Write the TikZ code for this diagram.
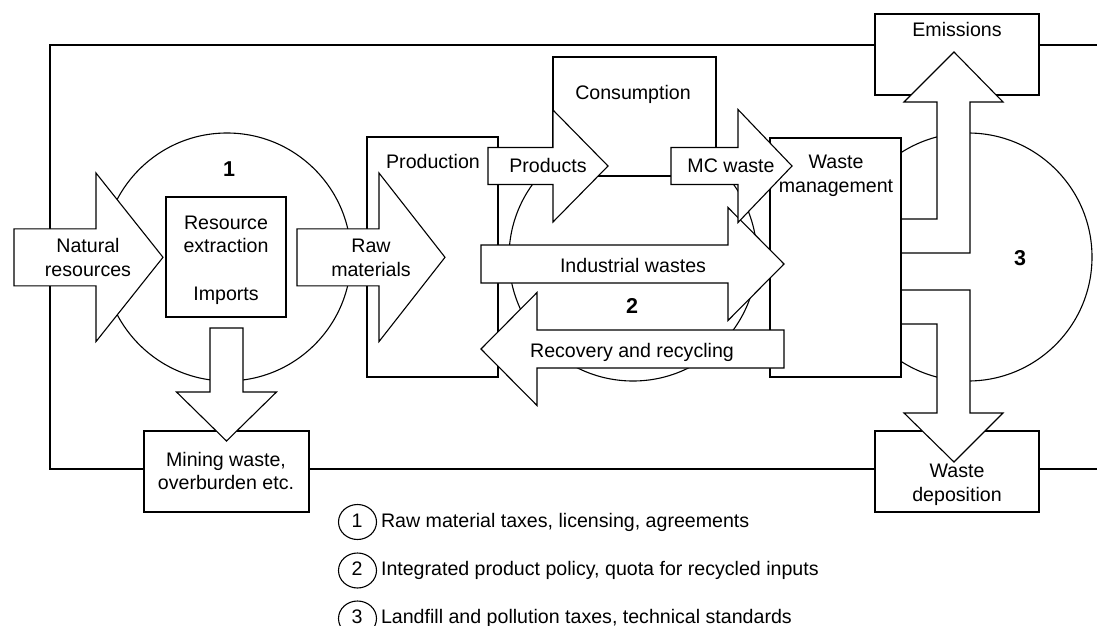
\documentclass[tikz,border=0pt]{standalone}
\usepackage{fontspec}
\setmainfont{Liberation Sans}

% horizontal block arrow: tail x, head base x, tip x, centre y, half body, half head
\newcommand{\blockarrowh}[6]{%
  \draw[blk] (#1,#4-#5) -- (#2,#4-#5) -- (#2,#4-#6) -- (#3,#4)
    -- (#2,#4+#6) -- (#2,#4+#5) -- (#1,#4+#5) -- cycle;}
% vertical block arrow: tail y, head base y, tip y, centre x, half body, half head
\newcommand{\blockarrowv}[6]{%
  \draw[blk] (#4-#5,#1) -- (#4-#5,#2) -- (#4-#6,#2) -- (#4,#3)
    -- (#4+#6,#2) -- (#4+#5,#2) -- (#4+#5,#1) -- cycle;}

\begin{document}
\begin{tikzpicture}[x=1pt,y=-1pt,line width=1.1pt,line join=miter,
  blk/.style={draw=black,fill=white},
  lbl/.style={anchor=base,inner sep=0pt,font=\fontsize{19.6}{24}\selectfont},
  num/.style={anchor=base,inner sep=0pt,font=\fontsize{21.5}{24}\selectfont\bfseries},
  legtext/.style={anchor=base west,inner sep=0pt,font=\fontsize{19.6}{24}\selectfont},
  legring/.style={draw=black,x radius=19,y radius=17.5}]

\useasboundingbox (0,0) rectangle (1097,626);

% system boundary
\draw (1097,45) -- (50,45) -- (50,469) -- (1097,469);

% policy areas
\draw[blk] (227,257) circle[radius=124];
\draw[blk] (633,257) circle[radius=124];
\draw[blk] (968,257) circle[radius=124];

% boxes on the boundary
\draw[blk] (875,14) rectangle (1039,95);
\draw[blk] (875,431) rectangle (1039,512);
\draw[blk] (144,431) rectangle (309,512);

% process boxes
\draw[blk] (166,197) rectangle (286,317);
\draw[blk] (367,137) rectangle (498,377);
\draw[blk] (553,57) rectangle (716,176);

% outputs of waste management
\draw[blk] (895,253) -- (970,253) -- (970,102) -- (1003,102) -- (954,52)
  -- (904,102) -- (937,102) -- (937,219) -- (895,219) -- cycle;
\draw[blk] (895,290) -- (970,290) -- (970,413) -- (1003,413) -- (954,462)
  -- (904,413) -- (937,413) -- (937,324) -- (895,324) -- cycle;

\draw[blk] (770,138) rectangle (901,377);

% material flows
\blockarrowv{328}{392}{441}{226.5}{16.5}{50}
\blockarrowh{14}{96}{163}{257.3}{28.5}{84.3}
\blockarrowh{297}{379}{445}{257.3}{28.5}{84.3}
\blockarrowh{488}{553}{608}{166}{18.5}{56}
\blockarrowh{481}{728}{784}{264}{19}{56.5}
\blockarrowh{671}{738}{792}{166}{18.5}{56.5}
\blockarrowh{784}{537}{481}{349}{19}{56.5}

% labels
\node[lbl] (nat1) at (88,252) {Natural};
\node[lbl] (nat2) at (88,276) {resources};
\node[lbl] (res1) at (226,229) {Resource};
\node[lbl] (res2) at (226,252) {extraction};
\node[lbl] (res3) at (226,300) {Imports};
\node[lbl] (raw1) at (371,252) {Raw};
\node[lbl] (raw2) at (371,276) {materials};
\node[lbl] (prod) at (433,168) {Production};
\node[lbl] (cons) at (633,99) {Consumption};
\node[lbl] (prds) at (548,172) {Products};
\node[lbl] (mcw) at (731,172) {MC waste};
\node[lbl] (wm1) at (836,168) {Waste};
\node[lbl] (wm2) at (836,192) {management};
\node[lbl] (indw) at (633,272) {Industrial wastes};
\node[lbl] (recy) at (632,357) {Recovery and recycling};
\node[lbl] (emis) at (957,37) {Emissions};
\node[lbl] (wd1) at (957,477) {Waste};
\node[lbl] (wd2) at (957,501) {deposition};
\node[lbl] (mw1) at (226,466) {Mining waste,};
\node[lbl] (mw2) at (226,489) {overburden etc.};

\node[num] (n1) at (229,176) {1};
\node[num] (n2) at (632,313) {2};
\node[num] (n3) at (1020,265) {3};

% legend
\draw[legring] (357.5,522) ellipse[];
\draw[legring] (357.5,570.5) ellipse[];
\draw[legring] (357.5,618.5) ellipse[];
\node[lbl] (k1) at (357,527) {1};
\node[lbl] (k2) at (357,575) {2};
\node[lbl] (k3) at (357,623) {3};
\node[legtext] (t1) at (380.5,527) {Raw material taxes, licensing, agreements};
\node[legtext] (t2) at (380.5,575) {Integrated product policy, quota for recycled inputs};
\node[legtext] (t3) at (380.5,623) {Landfill and pollution taxes, technical standards};

\end{tikzpicture}
\end{document}
